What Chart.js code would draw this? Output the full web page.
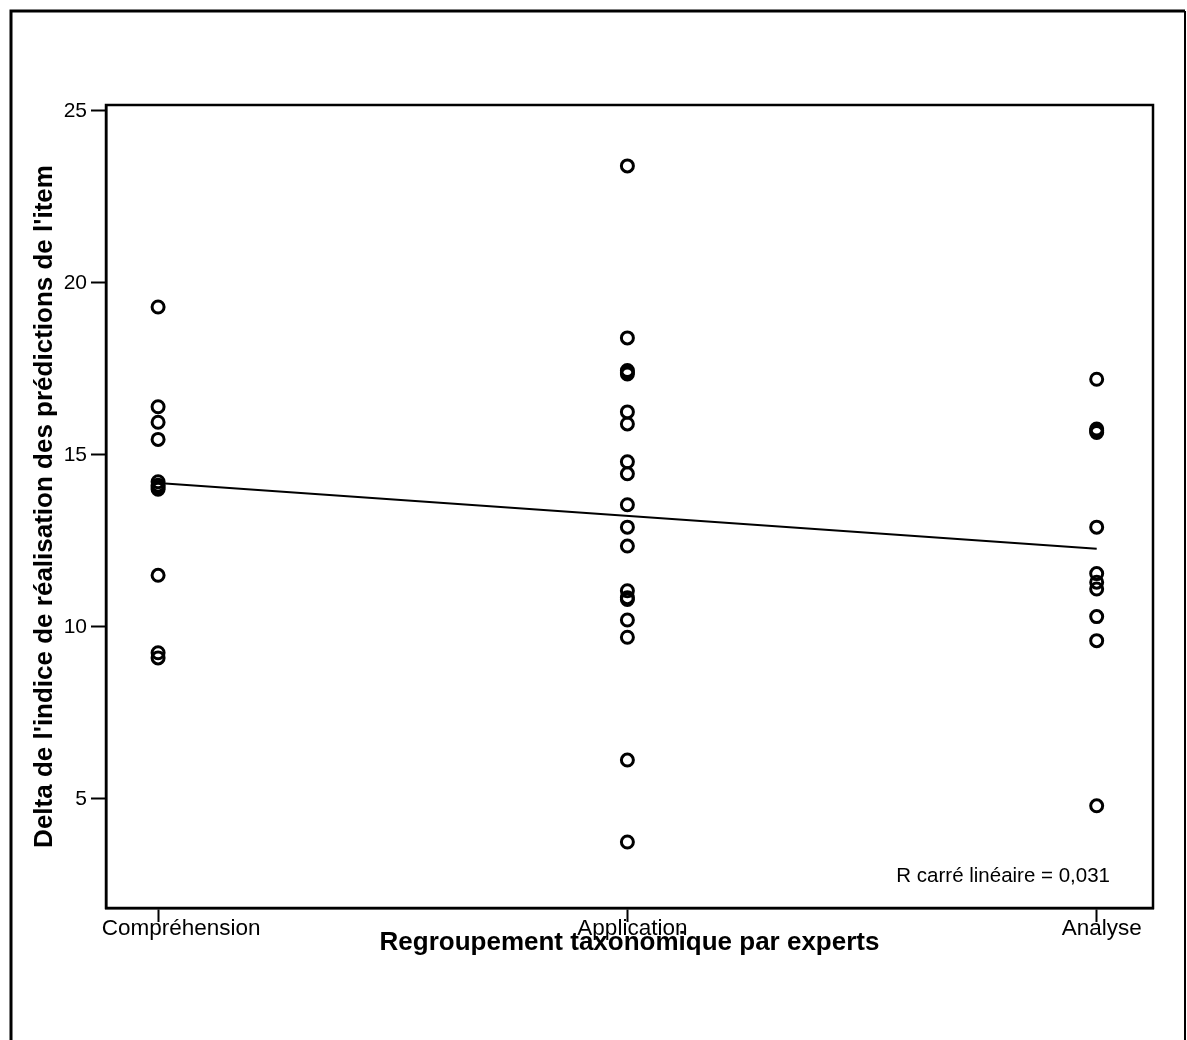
<!DOCTYPE html>
<html>
<head>
<meta charset="utf-8">
<script src="https://cdn.jsdelivr.net/npm/chart.js@4.4.1/dist/chart.umd.min.js"></script>
<style>
html,body{margin:0;padding:0;background:#fff;}
#wrap{width:1187px;height:1040px;}
</style>
</head>
<body>
<div id="wrap"><canvas id="c" width="1187" height="1040"></canvas></div>
<script>
const categories = ['Compréhension', 'Application', 'Analyse'];
const comprehensionValues = [19.3, 16.4, 15.95, 15.45, 14.22, 14.12, 14.05, 14.0, 11.5, 9.25, 9.1];
const applicationValues = [23.4, 18.4, 17.45, 17.4, 17.35, 16.25, 15.9, 14.8, 14.45, 13.55, 12.9, 12.35, 11.05, 10.85, 10.8, 10.2, 9.7, 6.13, 3.75];
const analyseValues = [17.2, 15.75, 15.7, 15.65, 12.9, 11.55, 11.3, 11.1, 10.3, 9.6, 4.8];
const fitLineValues = [14.18, 12.27];
const yTicks = [5, 10, 15, 20, 25];
const xTicks = [1, 2, 3];
const yTitle = "Delta de l'indice de réalisation des prédictions de l'item";
const xTitle = 'Regroupement taxonomique par experts';
const rSquareText = 'R carré linéaire = 0,031';

const groups = [comprehensionValues, applicationValues, analyseValues];
const points = [];
groups.forEach((vals, i) => vals.forEach(v => points.push({x: i + 1, y: v})));

const FONT = '"Liberation Sans", Arial, Helvetica, sans-serif';

const framePlugin = {
  id: 'frame',
  beforeDraw(chart) {
    const ctx = chart.ctx;
    ctx.save();
    ctx.fillStyle = '#fff';
    ctx.fillRect(0, 0, chart.width, chart.height);
    ctx.strokeStyle = '#000';
    ctx.lineWidth = 3;
    ctx.beginPath();
    ctx.moveTo(11, 1040);
    ctx.lineTo(11, 11);
    ctx.lineTo(1185, 11);
    ctx.stroke();
    ctx.lineWidth = 2;
    ctx.beginPath();
    ctx.moveTo(1185, 11);
    ctx.lineTo(1185, 1040);
    ctx.stroke();
    ctx.restore();
  },
  afterDraw(chart) {
    const {ctx, chartArea: a} = chart;
    const xs = chart.scales.x;
    ctx.save();
    ctx.strokeStyle = '#000';
    ctx.lineWidth = 2.5;
    ctx.strokeRect(a.left, a.top, a.right - a.left, a.bottom - a.top);
    ctx.fillStyle = '#000';
    ctx.font = '20.5px ' + FONT;
    ctx.textAlign = 'right';
    ctx.textBaseline = 'middle';
    ctx.fillText(rSquareText, a.right - 43, a.bottom - 32);
    // category labels, slightly shifted right as in the original
    const shifts = [23, 5, 5];
    ctx.font = '22.5px ' + FONT;
    ctx.textAlign = 'center';
    ctx.textBaseline = 'alphabetic';
    xTicks.forEach((t, i) => {
      ctx.fillText(categories[i], xs.getPixelForValue(t) + shifts[i], a.bottom + 27);
    });
    ctx.restore();
  }
};

new Chart(document.getElementById('c'), {
  type: 'scatter',
  data: {
    datasets: [
      {
        data: points,
        pointStyle: 'circle',
        pointRadius: 6,
        pointHoverRadius: 6,
        borderColor: '#000',
        backgroundColor: 'rgba(0,0,0,0)',
        borderWidth: 3
      },
      {
        type: 'line',
        data: fitLineValues.map((v, i) => ({x: xTicks[i === 0 ? 0 : xTicks.length - 1], y: v})),
        borderColor: '#000',
        borderWidth: 2,
        pointRadius: 0,
        fill: false
      }
    ]
  },
  plugins: [framePlugin],
  options: {
    responsive: false,
    animation: false,
    events: [],
    layout: {padding: {left: 0, top: 105, right: 34, bottom: 0}},
    plugins: {legend: {display: false}, tooltip: {enabled: false}},
    scales: {
      x: {
        type: 'linear',
        min: 0.889,
        max: 3.12,
        afterFit(s) { s.height = 132; },
        afterBuildTicks(s) { s.ticks = xTicks.map(v => ({value: v})); },
        grid: {drawOnChartArea: false, tickLength: 14, tickWidth: 2, tickColor: '#000'},
        border: {color: '#000', width: 2.5},
        ticks: {
          color: 'rgba(0,0,0,0)',
          font: {family: FONT, size: 22.5},
          padding: -6,
          maxRotation: 0,
          autoSkip: false,
          callback: v => categories[v - 1]
        },
        title: {
          display: true,
          text: xTitle,
          color: '#000',
          font: {family: FONT, size: 26, weight: 'bold'},
          padding: {top: 0, bottom: 82}
        }
      },
      y: {
        type: 'linear',
        min: 1.83,
        max: 25.17,
        afterFit(s) { s.width = 106; },
        afterBuildTicks(s) { s.ticks = yTicks.map(v => ({value: v})); },
        grid: {drawOnChartArea: false, tickLength: 15, tickWidth: 2, tickColor: '#000'},
        border: {color: '#000', width: 2.5},
        ticks: {
          color: '#000',
          font: {family: FONT, size: 21},
          padding: 4,
          autoSkip: false
        },
        title: {
          display: true,
          text: yTitle,
          color: '#000',
          font: {family: FONT, size: 26, weight: 'bold'},
          padding: {top: 29, bottom: 0}
        }
      }
    }
  }
});
</script>
</body>
</html>
